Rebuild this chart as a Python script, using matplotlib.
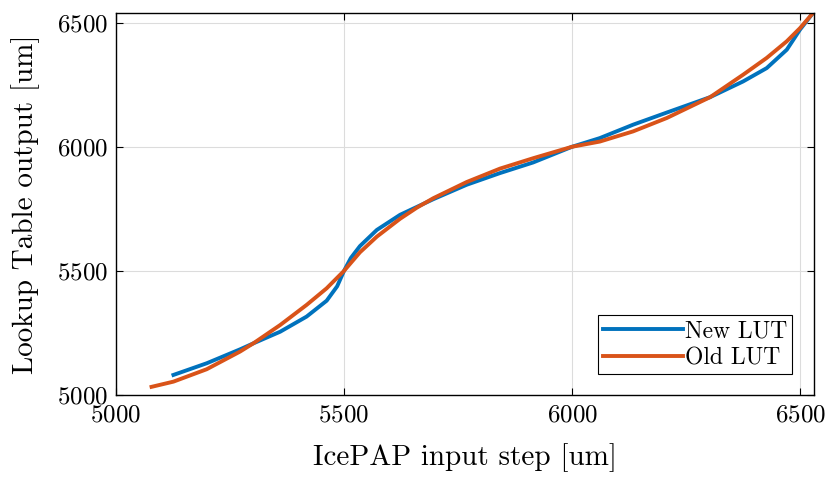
import matplotlib
matplotlib.use("Agg")
import matplotlib.pyplot as plt

plt.rcParams['font.family'] = 'serif'
plt.rcParams['font.serif'] = ['cmr10', 'DejaVu Serif']
plt.rcParams['axes.formatter.use_mathtext'] = True

# values
new_x = [5126, 5199, 5272, 5301, 5360, 5418, 5462, 5485, 5500, 5515, 5535, 5572,
         5623, 5696, 5769, 5842, 5915, 6000, 6061, 6134, 6208, 6303, 6375, 6427,
         6471, 6500, 6529]
new_y = [5081, 5128, 5184, 5208, 5255, 5316, 5380, 5438, 5500, 5552, 5600, 5665,
         5726, 5789, 5847, 5894, 5937, 6000, 6035, 6089, 6138, 6200, 6263, 6317,
         6391, 6472, 6540]
old_x = [5078, 5126, 5199, 5272, 5301, 5360, 5418, 5462, 5500, 5535, 5572, 5623,
         5660, 5696, 5769, 5842, 5915, 6000, 6061, 6134, 6208, 6303, 6375, 6427,
         6471, 6500, 6529]
old_y = [5033, 5054, 5104, 5175, 5208, 5282, 5363, 5430, 5500, 5575, 5638, 5710,
         5755, 5793, 5858, 5912, 5954, 6000, 6021, 6062, 6116, 6200, 6290, 6358,
         6425, 6478, 6540]

fig = plt.figure(figsize=(8.32, 4.8), dpi=100)
ax = fig.add_axes([0.1394, 0.177, 0.8386, 0.7965])

ax.plot(new_x, new_y, color='#0072BD', lw=2.8, label='New LUT')
ax.plot(old_x, old_y, color='#D95319', lw=2.8, label='Old LUT')

ax.set_xlim(5000, 6530)
ax.set_ylim(5000, 6540)
ax.set_xticks([5000, 5500, 6000, 6500])
ax.set_yticks([5000, 5500, 6000, 6500])
ax.tick_params(direction='in', top=True, right=True, labelsize=18, length=5)
ax.tick_params(axis='x', pad=7)
ax.tick_params(axis='y', pad=6)
ax.grid(True, color='#dcdcdc', lw=0.8)
for s in ax.spines.values():
    s.set_linewidth(1.0)

ax.set_xlabel('IcePAP input step [um]', fontsize=21, labelpad=12)
ax.set_ylabel('Lookup Table output [um]', fontsize=21, labelpad=12)

leg = ax.legend(loc='lower right', fontsize=17, handlelength=3.4, handletextpad=0.1,
                fancybox=False, edgecolor='black', framealpha=1,
                borderaxespad=0.9, borderpad=0.2, labelspacing=0.2)
leg.get_frame().set_linewidth(0.8)

fig.savefig('out.png', dpi=100)
